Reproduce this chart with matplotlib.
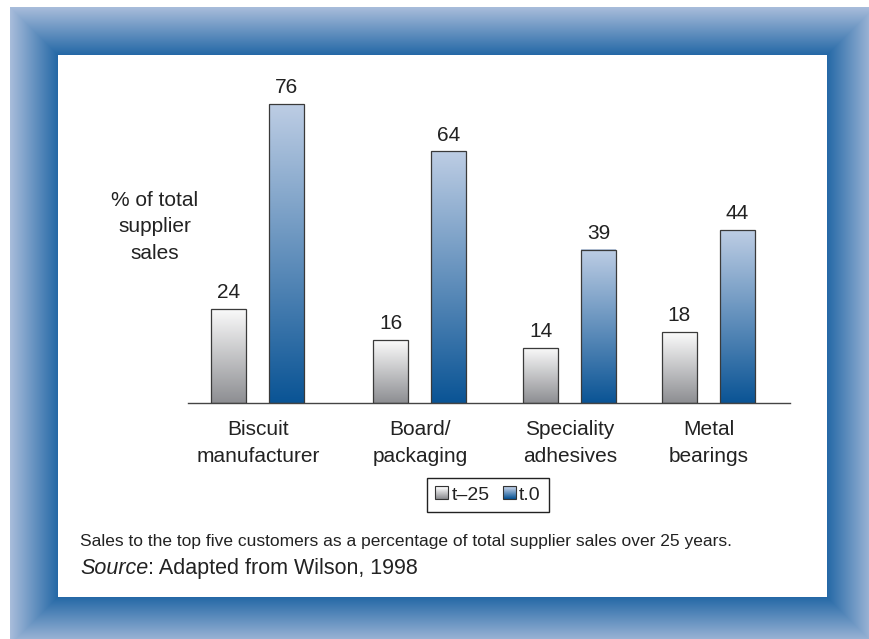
import matplotlib
matplotlib.use("Agg")
import matplotlib.pyplot as plt
import numpy as np
from matplotlib.colors import LinearSegmentedColormap
from matplotlib.patches import Patch, Rectangle
from matplotlib.legend_handler import HandlerBase

# share of supplier sales going to the top five customers (%)
categories = ["Biscuit\nmanufacturer", "Board/\npackaging", "Speciality\nadhesives", "Metal\nbearings"]
share_t25 = [24, 16, 14, 18]
share_t0 = [76, 64, 39, 44]
series_names = ["t\u201325", "t.0"]

ylabel = "% of total\nsupplier\nsales"
caption = "Sales to the top five customers as a percentage of total supplier sales over 25 years."
source_tag = "Source"
source_text = ": Adapted from Wilson, 1998"

plt.rcParams['font.family'] = ['Liberation Sans', 'DejaVu Sans']
TXT = '#222222'

W, H = 870, 639
fig = plt.figure(figsize=(W / 100, H / 100), dpi=100)

# --- blue bevelled frame round a white panel ---
bg = fig.add_axes([0, 0, 1, 1])
yy, xx = np.mgrid[0:H, 0:W] + 0.5
left, top, right, bottom = 10, 7, 875, 645
band = 48
dist = np.minimum.reduce([xx - left, yy - top, right - xx, bottom - yy])
t = np.clip(dist / band, 0, 1)[..., None]
light = np.array([0.663, 0.741, 0.859])
dark = np.array([0.141, 0.408, 0.651])
img = light + (dark - light) * t
img[(dist >= band) | (dist < 0)] = 1.0
bg.imshow(img, extent=[0, W, H, 0], aspect='auto', interpolation='bilinear')
bg.set_xlim(0, W)
bg.set_ylim(H, 0)
bg.axis('off')

# --- bar axes, laid out in pixel units along the baseline ---
px_per_unit = 3.93
ymax = 80
ax_x0, ax_x1, base_y = 188, 790, 403
ax = fig.add_axes([ax_x0 / W, 1 - base_y / H, (ax_x1 - ax_x0) / W, ymax * px_per_unit / H])
ax.patch.set_alpha(0)

group_x = np.array([70, 232, 382, 520.5])
offset = 29
bar_w = 35

gray_cmap = LinearSegmentedColormap.from_list('grey_bar', ['#8d8e92', '#fbfbfb'])
blue_cmap = LinearSegmentedColormap.from_list('blue_bar', ['#0a5495', '#bdcde4'])
grad = np.linspace(1, 0, 256).reshape(-1, 1)


def gradient_bar(x, h, cmap):
    ax.imshow(grad, extent=[x - bar_w / 2, x + bar_w / 2, 0, h], origin='upper',
              aspect='auto', cmap=cmap, vmin=0, vmax=1, zorder=2)
    ax.bar(x, h, bar_w, facecolor='none', edgecolor='#3a3a3a', linewidth=0.9, zorder=3)
    ax.annotate(str(h), (x, h), xytext=(0, 5), textcoords='offset points',
                ha='center', va='bottom', fontsize=15, color=TXT)


for gx, a, b in zip(group_x, share_t25, share_t0):
    gradient_bar(gx - offset, a, gray_cmap)
    gradient_bar(gx + offset, b, blue_cmap)

ax.set_xlim(0, ax_x1 - ax_x0)
ax.set_ylim(0, ymax)
ax.set_xticks(group_x)
ax.set_xticklabels(categories, fontsize=15, color=TXT, linespacing=1.5)
ax.tick_params(axis='x', length=0, pad=12.5)
ax.set_yticks([])
for side in ['top', 'right', 'left']:
    ax.spines[side].set_visible(False)
ax.spines['bottom'].set_color('#444444')
ax.spines['bottom'].set_linewidth(1.0)

fig.text(155 / W, 1 - 191 / H, ylabel, ha='center', va='top', fontsize=15,
         color=TXT, linespacing=1.5, multialignment='center')


# legend swatches drawn as small vertical gradients
class GradientHandler(HandlerBase):
    def __init__(self, cmap, steps=12):
        super().__init__()
        self.cmap = cmap
        self.steps = steps

    def create_artists(self, legend, orig_handle, xdescent, ydescent,
                       width, height, fontsize, trans):
        arts = []
        for i in range(self.steps):
            y0 = -ydescent + height * i / self.steps
            arts.append(Rectangle((-xdescent, y0), width, height / self.steps,
                                  facecolor=self.cmap(i / (self.steps - 1)),
                                  edgecolor='none', transform=trans))
        arts.append(Rectangle((-xdescent, -ydescent), width, height, facecolor='none',
                              edgecolor='#333333', linewidth=0.8, transform=trans))
        return arts


h1, h2 = Patch(), Patch()
leg = fig.legend([h1, h2], series_names, loc='center',
                 bbox_to_anchor=(488 / W, 1 - 495 / H), ncol=2, fontsize=14,
                 handler_map={h1: GradientHandler(gray_cmap), h2: GradientHandler(blue_cmap)},
                 handlelength=0.67, handleheight=0.62, handletextpad=0.15,
                 columnspacing=0.7, borderpad=0.42, borderaxespad=0,
                 fancybox=False, framealpha=1)
leg.get_frame().set_edgecolor('#222222')
leg.get_frame().set_linewidth(1.0)
for txt in leg.get_texts():
    txt.set_color(TXT)

# caption and source line
fig.text(80 / W, 1 - 546 / H, caption, ha='left', va='baseline', fontsize=12.5, color=TXT)
src = fig.text(80 / W, 1 - 574 / H, source_tag, ha='left', va='baseline',
               fontsize=15.5, style='italic', color=TXT)
fig.canvas.draw()
ext = src.get_window_extent()
fig.text(ext.x1 / W, 1 - 574 / H, source_text, ha='left', va='baseline', fontsize=15.5, color=TXT)

fig.savefig('out.png', dpi=100)
